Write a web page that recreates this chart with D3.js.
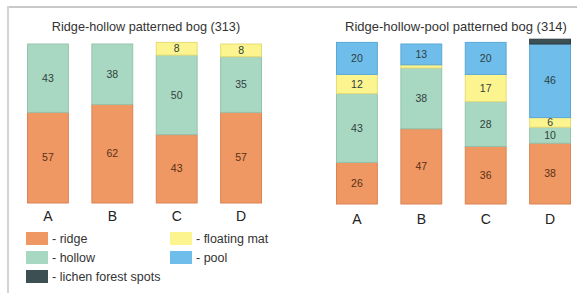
<!DOCTYPE html>
<html><head><meta charset="utf-8">
<script src="https://cdn.jsdelivr.net/npm/d3@7"></script>
<style>body{margin:0;background:#fff}svg{display:block}text{font-family:"Liberation Sans",Arial,sans-serif}</style>
</head><body><svg id="c" width="577" height="293"></svg>
<script>
const categories = ["A","B","C","D"];
const layers = ["ridge","hollow","floating","pool","lichen"];
const layerLabels = ["- ridge","- hollow","- floating mat","- pool","- lichen forest spots"];
const colors = ["#EF9863","#A9D8C2","#FCF48E","#6EBDEB","#3C4F52"];
const strokes = ["#d98455","#93c3ad","#e5dc78","#5aa8d6","#2e3d40"];
// panel 1: Ridge-hollow patterned bog (313)
const title313 = "Ridge-hollow patterned bog (313)";
const ridge313 = [57,62,43,57];
const hollow313 = [43,38,50,35];
const floating313 = [0,0,8,8];
const pool313 = [0,0,0,0];
const lichen313 = [0,0,0,0];
// panel 2: Ridge-hollow-pool patterned bog (314)
const title314 = "Ridge-hollow-pool patterned bog (314)";
const ridge314 = [26,47,36,38];
const hollow314 = [43,38,28,10];
const floating314 = [12,2,17,6];
const pool314 = [20,13,20,46];
const lichen314 = [0,0,0,3];
const showLabel = v => v >= 5;

const svg = d3.select("#c");
// frame
svg.append("line").attr("x1",8).attr("x2",577).attr("y1",7).attr("y2",7).attr("stroke","#c8c8c8").attr("stroke-width",2);
svg.append("line").attr("x1",8).attr("x2",8).attr("y1",6).attr("y2",293).attr("stroke","#d4d4d4").attr("stroke-width",2);

function panel(cfg){
  const g = svg.append("g");
  const x = d3.scaleBand().domain(categories).range(cfg.xr).paddingInner(cfg.pad).paddingOuter(0);
  const y = d3.scaleLinear().domain([0,100]).range([cfg.bottom, cfg.top]);
  const rows = categories.map((c,i)=>({cat:c, ridge:cfg.data[0][i], hollow:cfg.data[1][i], floating:cfg.data[2][i], pool:cfg.data[3][i], lichen:cfg.data[4][i]}));
  const stack = d3.stack().keys(layers)(rows);
  stack.forEach((s,li)=>{
    const lg = g.append("g");
    lg.selectAll("rect").data(s.filter(d=>d[1]-d[0]>0)).join("rect")
      .attr("x",d=>x(d.data.cat)+0.5).attr("width",x.bandwidth()-1)
      .attr("y",d=>y(d[1])).attr("height",d=>y(d[0])-y(d[1]))
      .attr("fill",colors[li]).attr("stroke",strokes[li]).attr("stroke-width",1);
    lg.selectAll("text").data(s.filter(d=>showLabel(d[1]-d[0]) && layers[li]!=="lichen")).join("text")
      .attr("x",d=>x(d.data.cat)+x.bandwidth()/2).attr("y",d=>(y(d[0])+y(d[1]))/2)
      .attr("text-anchor","middle").attr("dy","0.35em").attr("font-size",10.5)
      .attr("fill", li===0 ? "#5a3015" : "#2f4040")
      .text(d=>d[1]-d[0]);
  });
  const ax = d3.axisBottom(x).tickSize(0).tickPadding(0);
  const axg = g.append("g").attr("transform",`translate(0,${cfg.labelY})`).call(ax);
  axg.select(".domain").remove();
  axg.selectAll("text").attr("font-size",14).attr("fill","#222").attr("dy","0.35em").attr("font-family","Liberation Sans, Arial, sans-serif");
  g.append("text").attr("x",cfg.titleX).attr("y",cfg.titleY).attr("text-anchor","middle").attr("dy","0.35em")
    .attr("font-size",cfg.titleSize).attr("fill","#333").text(cfg.title);
}
panel({xr:[27,262], pad:0.35, top:44, bottom:203, labelY:216, titleX:146, titleY:27, titleSize:12.7, title:title313,
  data:[ridge313,hollow313,floating313,pool313,lichen313]});
panel({xr:[336,571], pad:0.35, top:44, bottom:204, labelY:219, titleX:456, titleY:26, titleSize:13, title:title314,
  data:[ridge314,hollow314,floating314,pool314,lichen314]});

// legend
const legendCols = [26,170];
const legendRows = [232,251,270];
const legendPos = [[0,0],[0,1],[1,0],[1,1],[0,2]];
const lg = svg.append("g");
layers.forEach((k,i)=>{
  const [c,r] = legendPos[i];
  lg.append("rect").attr("x",legendCols[c]).attr("y",legendRows[r]).attr("width",22).attr("height",13)
    .attr("fill",colors[i]);
  lg.append("text").attr("x",legendCols[c]+26).attr("y",legendRows[r]+6.5).attr("dy","0.35em")
    .attr("font-size",12.5).attr("fill","#333").text(layerLabels[i]);
});
</script></body></html>
